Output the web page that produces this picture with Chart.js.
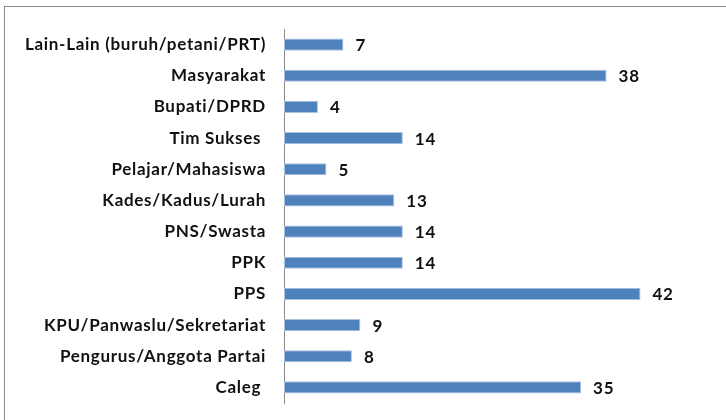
<!DOCTYPE html>
<html>
<head>
<meta charset="utf-8">
<script src="https://cdn.jsdelivr.net/npm/chart.js@4"></script>
<style>
  html, body { margin: 0; padding: 0; background: #fff; }
  #wrap { position: relative; width: 726px; height: 420px; overflow: hidden; }
  #frame { position: absolute; left: 4px; top: 6px; width: 800px; height: 500px;
           border-left: 1px solid #8a8a8a; border-top: 1px solid #8a8a8a; }
  canvas { position: absolute; left: 0; top: 0; }
</style>
</head>
<body>
<div id="wrap">
  <div id="frame"></div>
  <canvas id="chart" width="726" height="420"></canvas>
</div>
<script>
const categories = [
  'Lain-Lain (buruh/petani/PRT)',
  'Masyarakat',
  'Bupati/DPRD',
  'Tim Sukses ',
  'Pelajar/Mahasiswa',
  'Kades/Kadus/Lurah',
  'PNS/Swasta',
  'PPK',
  'PPS',
  'KPU/Panwaslu/Sekretariat',
  'Pengurus/Anggota Partai',
  'Caleg '
];
const counts = [7, 38, 4, 14, 5, 13, 14, 14, 42, 9, 8, 35];

const FONT = 'Lato, "Liberation Sans", sans-serif';

// a bit of letter spacing so the text is as wide as the original
const spacing = {
  id: 'spacing',
  beforeDraw(chart) { chart.ctx.letterSpacing = '0.7px'; }
};

// draw the number at the end of each bar
const valueLabels = {
  id: 'valueLabels',
  afterDatasetsDraw(chart) {
    const ctx = chart.ctx;
    const meta = chart.getDatasetMeta(0);
    ctx.save();
    ctx.font = 'bold 17px ' + FONT;
    ctx.letterSpacing = '0.7px';
    ctx.fillStyle = '#111';
    ctx.textBaseline = 'middle';
    ctx.textAlign = 'left';
    meta.data.forEach((bar, i) => {
      ctx.fillText(String(counts[i]), bar.x + 12, bar.y + 1);
    });
    ctx.restore();
  }
};

new Chart(document.getElementById('chart'), {
  type: 'bar',
  data: {
    labels: categories,
    datasets: [{
      data: counts,
      backgroundColor: '#4F81BD',
      borderColor: '#A9C1DF',
      borderWidth: 1,
      borderSkipped: false,
      categoryPercentage: 1,
      barPercentage: 0.39
    }]
  },
  options: {
    indexAxis: 'y',
    responsive: false,
    animation: false,
    layout: { padding: { left: 0, top: 29, right: 60, bottom: 17 } },
    plugins: { legend: { display: false }, tooltip: { enabled: false } },
    scales: {
      x: { display: false, min: 0, max: 45 },
      y: {
        afterFit: s => { s.width = 284; s.paddingTop = 0; s.paddingBottom = 0; },
        grid: { display: false, drawTicks: false },
        border: { display: true, color: '#8a8a8a', width: 1 },
        ticks: {
          padding: 18,
          color: '#111',
          font: { family: FONT, size: 17, weight: 'bold' }
        }
      }
    }
  },
  plugins: [spacing, valueLabels]
});
</script>
</body>
</html>
